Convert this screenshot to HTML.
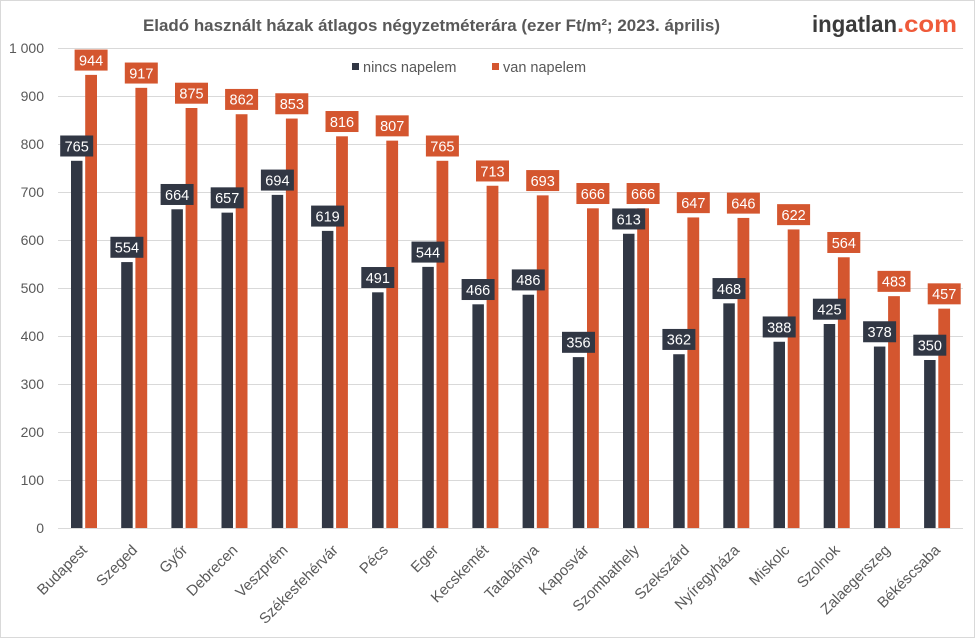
<!DOCTYPE html>
<html><head><meta charset="utf-8">
<style>
html,body{margin:0;padding:0;background:#fff;}
svg{display:block;}
text{font-family:"Liberation Sans",Arial,sans-serif;}
.yl{font-size:14px;fill:#595959;text-anchor:end;}
.xl{font-size:15px;fill:#595959;text-anchor:end;}
.vl{font-size:14.5px;fill:#fff;text-anchor:middle;}
.d{fill:#313744;}
.o{fill:#d4562f;}
</style></head>
<body>
<svg width="977" height="639" viewBox="0 0 977 639" xmlns="http://www.w3.org/2000/svg">
<rect x="0.5" y="0.5" width="974" height="637" fill="#fff" stroke="#d9d9d9" stroke-width="1"/>
<text x="143" y="31" font-size="17" font-weight="bold" fill="#595959" textLength="577" lengthAdjust="spacingAndGlyphs">Eladó használt házak átlagos négyzetméterára (ezer Ft/m²; 2023. április)</text>
<text x="812" y="32" font-size="23" font-weight="bold" fill="#3b3b3b" textLength="85" lengthAdjust="spacingAndGlyphs">ingatlan</text>
<text x="897" y="32" font-size="23" font-weight="bold" fill="#ef5a3a" textLength="60" lengthAdjust="spacingAndGlyphs">.com</text>
<g stroke="#d9d9d9" stroke-width="1">
<line x1="58" y1="48.5" x2="963" y2="48.5"/>
<line x1="58" y1="96.5" x2="963" y2="96.5"/>
<line x1="58" y1="144.5" x2="963" y2="144.5"/>
<line x1="58" y1="192.5" x2="963" y2="192.5"/>
<line x1="58" y1="240.5" x2="963" y2="240.5"/>
<line x1="58" y1="288.5" x2="963" y2="288.5"/>
<line x1="58" y1="336.5" x2="963" y2="336.5"/>
<line x1="58" y1="384.5" x2="963" y2="384.5"/>
<line x1="58" y1="432.5" x2="963" y2="432.5"/>
<line x1="58" y1="480.5" x2="963" y2="480.5"/>
<line x1="58" y1="528.5" x2="963" y2="528.5"/>
</g>
<text class="yl" x="44" y="53">1 000</text>
<text class="yl" x="44" y="101">900</text>
<text class="yl" x="44" y="149">800</text>
<text class="yl" x="44" y="197">700</text>
<text class="yl" x="44" y="245">600</text>
<text class="yl" x="44" y="293">500</text>
<text class="yl" x="44" y="341">400</text>
<text class="yl" x="44" y="389">300</text>
<text class="yl" x="44" y="437">200</text>
<text class="yl" x="44" y="485">100</text>
<text class="yl" x="44" y="533">0</text>
<rect class="d" x="352" y="63" width="7" height="7"/>
<text x="363" y="72" font-size="14.5" fill="#595959">nincs napelem</text>
<rect class="o" x="492" y="63" width="7" height="7"/>
<text x="503" y="72" font-size="14.5" fill="#595959">van napelem</text>

<g transform="translate(84,0)">
<rect class="d" x="-13" y="160.8" width="11.5" height="367.2"/><rect class="o" x="1.2" y="74.88" width="11.8" height="453.12"/>
<rect class="d" x="-23.8" y="135.5" width="33" height="21"/><text class="vl" x="-7.3" y="151.3">765</text>
<rect class="o" x="-9.4" y="49.58" width="33" height="21"/><text class="vl" x="7.1" y="65.4">944</text>
<text class="xl" transform="translate(4,551) rotate(-45)">Budapest</text></g>

<g transform="translate(134.2,0)">
<rect class="d" x="-13" y="262.08" width="11.5" height="265.92"/><rect class="o" x="1.2" y="87.84" width="11.8" height="440.16"/>
<rect class="d" x="-23.8" y="236.78" width="33" height="21"/><text class="vl" x="-7.3" y="252.6">554</text>
<rect class="o" x="-9.4" y="62.54" width="33" height="21"/><text class="vl" x="7.1" y="78.3">917</text>
<text class="xl" transform="translate(4,551) rotate(-45)">Szeged</text></g>

<g transform="translate(184.4,0)">
<rect class="d" x="-13" y="209.28" width="11.5" height="318.72"/><rect class="o" x="1.2" y="108" width="11.8" height="420"/>
<rect class="d" x="-23.8" y="183.98" width="33" height="21"/><text class="vl" x="-7.3" y="199.8">664</text>
<rect class="o" x="-9.4" y="82.7" width="33" height="21"/><text class="vl" x="7.1" y="98.5">875</text>
<text class="xl" transform="translate(4,551) rotate(-45)">Győr</text></g>

<g transform="translate(234.5,0)">
<rect class="d" x="-13" y="212.64" width="11.5" height="315.36"/><rect class="o" x="1.2" y="114.24" width="11.8" height="413.76"/>
<rect class="d" x="-23.8" y="187.34" width="33" height="21"/><text class="vl" x="-7.3" y="203.1">657</text>
<rect class="o" x="-9.4" y="88.94" width="33" height="21"/><text class="vl" x="7.1" y="104.7">862</text>
<text class="xl" transform="translate(4,551) rotate(-45)">Debrecen</text></g>

<g transform="translate(284.7,0)">
<rect class="d" x="-13" y="194.88" width="11.5" height="333.12"/><rect class="o" x="1.2" y="118.56" width="11.8" height="409.44"/>
<rect class="d" x="-23.8" y="169.58" width="33" height="21"/><text class="vl" x="-7.3" y="185.4">694</text>
<rect class="o" x="-9.4" y="93.26" width="33" height="21"/><text class="vl" x="7.1" y="109.1">853</text>
<text class="xl" transform="translate(4,551) rotate(-45)">Veszprém</text></g>

<g transform="translate(334.9,0)">
<rect class="d" x="-13" y="230.88" width="11.5" height="297.12"/><rect class="o" x="1.2" y="136.32" width="11.8" height="391.68"/>
<rect class="d" x="-23.8" y="205.58" width="33" height="21"/><text class="vl" x="-7.3" y="221.4">619</text>
<rect class="o" x="-9.4" y="111.02" width="33" height="21"/><text class="vl" x="7.1" y="126.8">816</text>
<text class="xl" transform="translate(4,551) rotate(-45)">Székesfehérvár</text></g>

<g transform="translate(385.1,0)">
<rect class="d" x="-13" y="292.32" width="11.5" height="235.68"/><rect class="o" x="1.2" y="140.64" width="11.8" height="387.36"/>
<rect class="d" x="-23.8" y="267.02" width="33" height="21"/><text class="vl" x="-7.3" y="282.8">491</text>
<rect class="o" x="-9.4" y="115.34" width="33" height="21"/><text class="vl" x="7.1" y="131.1">807</text>
<text class="xl" transform="translate(4,551) rotate(-45)">Pécs</text></g>

<g transform="translate(435.3,0)">
<rect class="d" x="-13" y="266.88" width="11.5" height="261.12"/><rect class="o" x="1.2" y="160.8" width="11.8" height="367.2"/>
<rect class="d" x="-23.8" y="241.58" width="33" height="21"/><text class="vl" x="-7.3" y="257.4">544</text>
<rect class="o" x="-9.4" y="135.5" width="33" height="21"/><text class="vl" x="7.1" y="151.3">765</text>
<text class="xl" transform="translate(4,551) rotate(-45)">Eger</text></g>

<g transform="translate(485.4,0)">
<rect class="d" x="-13" y="304.32" width="11.5" height="223.68"/><rect class="o" x="1.2" y="185.76" width="11.8" height="342.24"/>
<rect class="d" x="-23.8" y="279.02" width="33" height="21"/><text class="vl" x="-7.3" y="294.8">466</text>
<rect class="o" x="-9.4" y="160.46" width="33" height="21"/><text class="vl" x="7.1" y="176.3">713</text>
<text class="xl" transform="translate(4,551) rotate(-45)">Kecskemét</text></g>

<g transform="translate(535.6,0)">
<rect class="d" x="-13" y="294.72" width="11.5" height="233.28"/><rect class="o" x="1.2" y="195.36" width="11.8" height="332.64"/>
<rect class="d" x="-23.8" y="269.42" width="33" height="21"/><text class="vl" x="-7.3" y="285.2">486</text>
<rect class="o" x="-9.4" y="170.06" width="33" height="21"/><text class="vl" x="7.1" y="185.9">693</text>
<text class="xl" transform="translate(4,551) rotate(-45)">Tatabánya</text></g>

<g transform="translate(585.8,0)">
<rect class="d" x="-13" y="357.12" width="11.5" height="170.88"/><rect class="o" x="1.2" y="208.32" width="11.8" height="319.68"/>
<rect class="d" x="-23.8" y="331.82" width="33" height="21"/><text class="vl" x="-7.3" y="347.6">356</text>
<rect class="o" x="-9.4" y="183.02" width="33" height="21"/><text class="vl" x="7.1" y="198.8">666</text>
<text class="xl" transform="translate(4,551) rotate(-45)">Kaposvár</text></g>

<g transform="translate(636,0)">
<rect class="d" x="-13" y="233.76" width="11.5" height="294.24"/><rect class="o" x="1.2" y="208.32" width="11.8" height="319.68"/>
<rect class="d" x="-23.8" y="208.46" width="33" height="21"/><text class="vl" x="-7.3" y="224.3">613</text>
<rect class="o" x="-9.4" y="183.02" width="33" height="21"/><text class="vl" x="7.1" y="198.8">666</text>
<text class="xl" transform="translate(4,551) rotate(-45)">Szombathely</text></g>

<g transform="translate(686.2,0)">
<rect class="d" x="-13" y="354.24" width="11.5" height="173.76"/><rect class="o" x="1.2" y="217.44" width="11.8" height="310.56"/>
<rect class="d" x="-23.8" y="328.94" width="33" height="21"/><text class="vl" x="-7.3" y="344.7">362</text>
<rect class="o" x="-9.4" y="192.14" width="33" height="21"/><text class="vl" x="7.1" y="207.9">647</text>
<text class="xl" transform="translate(4,551) rotate(-45)">Szekszárd</text></g>

<g transform="translate(736.3,0)">
<rect class="d" x="-13" y="303.36" width="11.5" height="224.64"/><rect class="o" x="1.2" y="217.92" width="11.8" height="310.08"/>
<rect class="d" x="-23.8" y="278.06" width="33" height="21"/><text class="vl" x="-7.3" y="293.9">468</text>
<rect class="o" x="-9.4" y="192.62" width="33" height="21"/><text class="vl" x="7.1" y="208.4">646</text>
<text class="xl" transform="translate(4,551) rotate(-45)">Nyíregyháza</text></g>

<g transform="translate(786.5,0)">
<rect class="d" x="-13" y="341.76" width="11.5" height="186.24"/><rect class="o" x="1.2" y="229.44" width="11.8" height="298.56"/>
<rect class="d" x="-23.8" y="316.46" width="33" height="21"/><text class="vl" x="-7.3" y="332.3">388</text>
<rect class="o" x="-9.4" y="204.14" width="33" height="21"/><text class="vl" x="7.1" y="219.9">622</text>
<text class="xl" transform="translate(4,551) rotate(-45)">Miskolc</text></g>

<g transform="translate(836.7,0)">
<rect class="d" x="-13" y="324" width="11.5" height="204"/><rect class="o" x="1.2" y="257.28" width="11.8" height="270.72"/>
<rect class="d" x="-23.8" y="298.7" width="33" height="21"/><text class="vl" x="-7.3" y="314.5">425</text>
<rect class="o" x="-9.4" y="231.98" width="33" height="21"/><text class="vl" x="7.1" y="247.8">564</text>
<text class="xl" transform="translate(4,551) rotate(-45)">Szolnok</text></g>

<g transform="translate(886.9,0)">
<rect class="d" x="-13" y="346.56" width="11.5" height="181.44"/><rect class="o" x="1.2" y="296.16" width="11.8" height="231.84"/>
<rect class="d" x="-23.8" y="321.26" width="33" height="21"/><text class="vl" x="-7.3" y="337.1">378</text>
<rect class="o" x="-9.4" y="270.86" width="33" height="21"/><text class="vl" x="7.1" y="286.7">483</text>
<text class="xl" transform="translate(4,551) rotate(-45)">Zalaegerszeg</text></g>

<g transform="translate(937.1,0)">
<rect class="d" x="-13" y="360" width="11.5" height="168"/><rect class="o" x="1.2" y="308.64" width="11.8" height="219.36"/>
<rect class="d" x="-23.8" y="334.7" width="33" height="21"/><text class="vl" x="-7.3" y="350.5">350</text>
<rect class="o" x="-9.4" y="283.34" width="33" height="21"/><text class="vl" x="7.1" y="299.1">457</text>
<text class="xl" transform="translate(4,551) rotate(-45)">Békéscsaba</text></g>
</svg>
</body></html>
